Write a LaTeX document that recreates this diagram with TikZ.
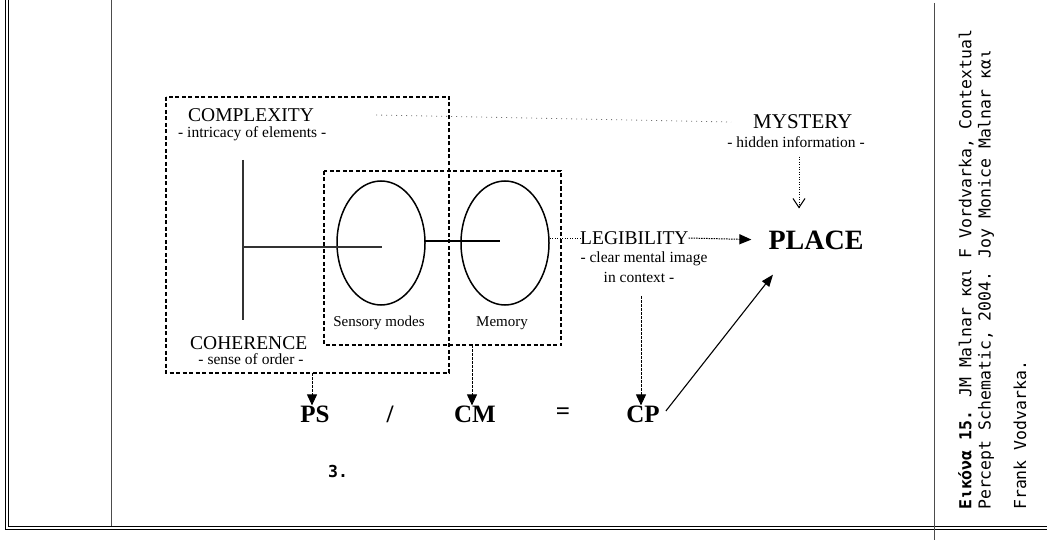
\documentclass[tikz,border=0pt]{standalone}
\usepackage{fontspec}
\setmainfont{Liberation Serif}
\newfontfamily\capfont{DejaVu Sans Mono}
\usetikzlibrary{arrows.meta,shapes.geometric}

\begin{document}
\begin{tikzpicture}[x=1pt,y=-1pt,
  rule/.style={line width=0.8pt, black!70},
  dbox/.style={draw, line width=1.2pt, dash pattern=on 4pt off 2.5pt},
  lobe/.style={draw, ellipse, line width=1.5pt, minimum width=88pt, minimum height=124pt, inner sep=0pt},
  title/.style={inner sep=0pt, font=\fontsize{19.5}{20}\selectfont},
  sub/.style={inner sep=0pt, font=\fontsize{15.5}{16}\selectfont},
  lbl/.style={inner sep=0pt, font=\fontsize{15}{16}\selectfont},
  term/.style={inner sep=0pt, font=\bfseries\fontsize{25}{25}\selectfont},
  captext/.style={inner sep=0pt, rotate=90, anchor=west, font=\capfont\fontsize{16.5}{17}\selectfont},
  drop/.style={line width=1pt, dash pattern=on 2.5pt off 1.5pt, -{Triangle[length=11pt,width=10pt]}},
  faint/.style={line width=0.8pt, black!55, dash pattern=on 1pt off 4pt},
]
\useasboundingbox (0,0) rectangle (1047,540);

% table frame
\draw[line width=1pt] (5.5,0) -- (5.5,529.5) -- (1047,529.5);
\draw[line width=1pt] (8.5,0) -- (8.5,526.5) -- (1047,526.5);
\draw[rule] (111,0) -- (111,526);
\draw[rule] (934,3) -- (934,540);

% dashed groupings
\coordinate (outerNW) at (166,97);
\coordinate (outerSE) at (449,373);
\coordinate (innerNW) at (324,171);
\coordinate (innerSE) at (561,345);
\draw[dbox] (outerNW) rectangle (outerSE);
\draw[dbox] (innerNW) rectangle (innerSE);

% the two lobes
\node[lobe] (sense) at (381,243) {};
\node[lobe] (mem) at (505,243) {};

% complexity / coherence axis
\coordinate (axtop) at (243,160);
\coordinate (axbot) at (243,320);
\coordinate (axmid) at (243,247);
\coordinate (sensec) at (382,247);
\coordinate (senser) at (425,241);
\coordinate (memc) at (500,241);
\draw[line width=1.3pt, black!80] (axtop) -- (axbot);
\draw[line width=1.2pt, black!80] (axmid) -- (sensec);
\draw[line width=1.5pt] (senser) -- (memc);

% labels
\node[title, anchor=west] (cplx) at (188,115) {COMPLEXITY};
\node[sub, anchor=west] (cplxs) at (178,134) {- intricacy of elements -};
\node[title, anchor=west] (coh) at (190,343) {COHERENCE};
\node[sub] (cohs) at (251,359) {- sense of order -};
\node[lbl] (sml) at (379,323) {Sensory modes};
\node[lbl] (mml) at (502,323) {Memory};
\node[title, anchor=west, font=\fontsize{21}{22}\selectfont] (mys) at (753,122) {MYSTERY};
\node[sub] (myss) at (796,142) {- hidden information -};
\node[title, anchor=west] (leg) at (580,238) {LEGIBILITY};
\node[sub] (legs) at (644,259) {- clear mental image};
\node[sub] (legt) at (639,277) {in context -};
\node[inner sep=0pt, font=\bfseries\fontsize{28}{28}\selectfont] (place) at (816,240) {PLACE};

% equation row
\node[term] (ps) at (315,414) {PS};
\node[term] (slash) at (390,414) {/};
\node[term] (cm) at (475,414) {CM};
\node[term] (eq) at (563,414) {=};
\node[term] (cp) at (643,414) {CP};

% connectors
\draw[faint] ([xshift=62pt]cplx.east) -- ([xshift=-22pt]mys.west);
\draw[line width=0.8pt, dash pattern=on 1pt off 1.5pt] (mem.east |- leg.west) -- (leg.west);
\draw[line width=1pt, dash pattern=on 1.5pt off 1pt, -{Triangle[length=12pt,width=10pt]}, shorten >=17pt] (leg.east) -- (place.west);
\draw[line width=0.8pt, dash pattern=on 1pt off 1.5pt, -{Straight Barb[length=9pt,width=12pt,line width=1pt]}] ([xshift=3pt,yshift=-9pt]myss.south) -- ([xshift=-17pt,yshift=22pt]place.north);
\coordinate (psin) at (312,373);
\coordinate (cmin) at (472,345);
\coordinate (cpin) at (641,296);
\draw[drop] (psin) -- (psin |- ps.north) ;
\draw[drop] (cmin) -- (cmin |- cm.north);
\draw[drop] (cpin) -- (cpin |- cp.north);
\draw[line width=1.1pt, -{Triangle[length=12pt,width=9pt]}] ([xshift=6pt,yshift=3pt]cp.east) -- ([xshift=-43pt,yshift=-25pt]place.south);

% footnote number and caption
\node[inner sep=0pt, font=\capfont\bfseries\fontsize{16.5}{17}\selectfont] (num) at (338,471) {3.};
\node[captext] (c1) at (966,510) {\textbf{Εικόνα 15.} JM Malnar και F Vordvarka, Contextual};
\node[captext] (c2) at (986,510) {Percept Schematic, 2004. Joy Monice Malnar και};
\node[captext] (c3) at (1020,510) {Frank Vodvarka.};
\end{tikzpicture}
\end{document}
